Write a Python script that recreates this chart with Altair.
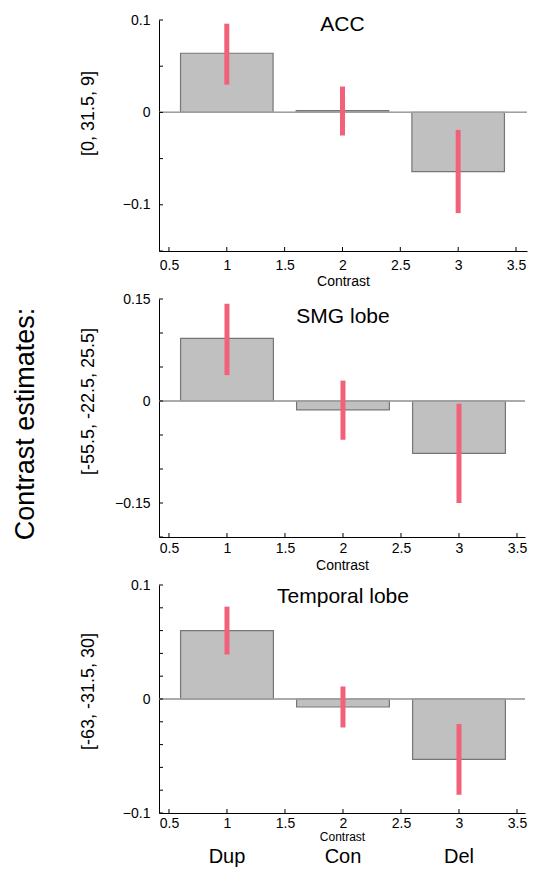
import altair as alt
import pandas as pd

contrast = [1, 2, 3]
groups = ["Dup", "Con", "Del"]
x_ticks = [0.5, 1, 1.5, 2, 2.5, 3, 3.5]

titles = ["ACC", "SMG lobe", "Temporal lobe"]
coords = ["[0, 31.5, 9]", "[-55.5, -22.5, 25.5]", "[-63, -31.5, 30]"]

acc_val = [0.064, 0.002, -0.064]
acc_lo = [0.030, -0.025, -0.109]
acc_hi = [0.096, 0.028, -0.019]

smg_val = [0.092, -0.013, -0.077]
smg_lo = [0.038, -0.057, -0.150]
smg_hi = [0.143, 0.030, -0.004]

tmp_val = [0.060, -0.007, -0.053]
tmp_lo = [0.039, -0.025, -0.084]
tmp_hi = [0.081, 0.011, -0.022]

acc_ydom = [-0.15, 0.1]
acc_yticks = [-0.15, -0.1, -0.05, 0, 0.05, 0.1]
acc_ylabels = [-0.1, 0, 0.1]

smg_ydom = [-0.2, 0.15]
smg_yticks = [-0.2, -0.15, -0.1, -0.05, 0, 0.05, 0.1, 0.15]
smg_ylabels = [-0.15, 0, 0.15]

tmp_ydom = [-0.1, 0.1]
tmp_yticks = [-0.1, -0.08, -0.06, -0.04, -0.02, 0, 0.02, 0.04, 0.06, 0.08, 0.1]
tmp_ylabels = [-0.1, 0, 0.1]

FONT = "Liberation Sans"
BAR_FILL = "#c0c0c0"
BAR_STROKE = "#767676"
ERR = "#f2617a"
ZERO = "#a0a0a0"


def panel(vals, lo, hi, title, coord, ydom, yticks, ylabels, xdom,
          width, height, title_y, coord_y, label_pad, title_pad, xtitle_size,
          extra=None):
    df = pd.DataFrame({"c": contrast, "v": vals, "lo": lo, "hi": hi, "g": groups})
    xs = alt.Scale(domain=xdom, nice=False, zero=False)
    ys = alt.Scale(domain=ydom, nice=False, zero=False)
    xaxis = alt.Axis(values=x_ticks, format=".3~g", ticks=False, grid=False,
                     title="Contrast", labelPadding=label_pad, titlePadding=title_pad,
                     labelFontSize=14, titleFontSize=xtitle_size, labelFlush=False)
    yaxis = alt.Axis(values=ylabels, format=".3~g", ticks=False, grid=False,
                     title=coord, titleX=-71, titleY=coord_y, titleBaseline="middle",
                     titleAlign="center", titleFontSize=18, labelPadding=9,
                     labelFontSize=14, labelFlush=False)
    base = alt.Chart(df)
    bars = base.transform_calculate(x0="datum.c - 0.4", x1="datum.c + 0.4").mark_bar(
        color=BAR_FILL, stroke=BAR_STROKE, strokeWidth=1.2
    ).encode(
        x=alt.X("x0:Q", scale=xs, axis=xaxis),
        x2="x1:Q",
        y=alt.Y("v:Q", scale=ys, axis=yaxis),
        y2=alt.datum(0),
    )
    zero = base.mark_rule(color=ZERO, strokeWidth=1.2).encode(
        y=alt.Y(datum=0, scale=ys, axis=yaxis))
    err = base.mark_rule(color=ERR, strokeWidth=5).encode(
        x=alt.X("c:Q", scale=xs, axis=xaxis), y=alt.Y("lo:Q", scale=ys, axis=yaxis), y2="hi:Q"
    )
    ytk = alt.Chart(pd.DataFrame({"t": yticks})).mark_rule(color="black").encode(
        y=alt.Y("t:Q", scale=ys, axis=yaxis), x=alt.value(0), x2=alt.value(4)
    )
    xtk = alt.Chart(pd.DataFrame({"t": x_ticks})).mark_rule(color="black").encode(
        x=alt.X("t:Q", scale=xs, axis=xaxis), y=alt.value(height), y2=alt.value(height - 4)
    )
    ttl = base.transform_filter("datum.c == 2").mark_text(
        text=title, fontSize=21, font=FONT, baseline="middle", align="center", color="black"
    ).encode(x=alt.X("c:Q", scale=xs, axis=xaxis), y=alt.value(title_y))
    layers = [bars, zero, err, ytk, xtk, ttl]
    if extra is not None:
        layers += extra(base, height, xs, xaxis)
    return alt.layer(*layers).properties(width=width, height=height)


def bottom_labels(base, height, xs, xaxis):
    return [base.mark_text(fontSize=20, font=FONT, baseline="middle", color="black").encode(
        x=alt.X("c:Q", scale=xs, axis=xaxis), y=alt.value(height + 44), text="g:N")]


def side_title(base, height, xs, xaxis):
    return [base.transform_filter("datum.c == 1").mark_text(
        text="Contrast estimates:", fontSize=27, font=FONT, angle=270,
        baseline="middle", align="center", color="black"
    ).encode(x=alt.value(26 - 159), y=alt.value(125))]


p1 = panel(acc_val, acc_lo, acc_hi, titles[0], coords[0], acc_ydom, acc_yticks,
           acc_ylabels, [0.414, 3.595], 368, 231, 5, 93, 7, 2, 14)
p2 = panel(smg_val, smg_lo, smg_hi, titles[1], coords[1], smg_ydom, smg_yticks,
           smg_ylabels, [0.414, 3.569], 366, 238, 18, 102, 4, 3, 14, extra=side_title)
p3 = panel(tmp_val, tmp_lo, tmp_hi, titles[2], coords[2], tmp_ydom, tmp_yticks,
           tmp_ylabels, [0.414, 3.569], 366, 228, 12, 106, 3, 1, 12, extra=bottom_labels)

chart = alt.vconcat(p1, p2, p3, spacing=48, bounds="flush").properties(
    padding={"left": 4, "top": 5, "right": 0, "bottom": 0}
).configure_view(stroke=None).configure_axis(
    domainColor="black", labelColor="black", titleColor="black",
    labelFont=FONT, titleFont=FONT, titleFontWeight="normal", domainWidth=1
)

chart.save("out.html", embed_options={"renderer": "svg", "actions": False})
